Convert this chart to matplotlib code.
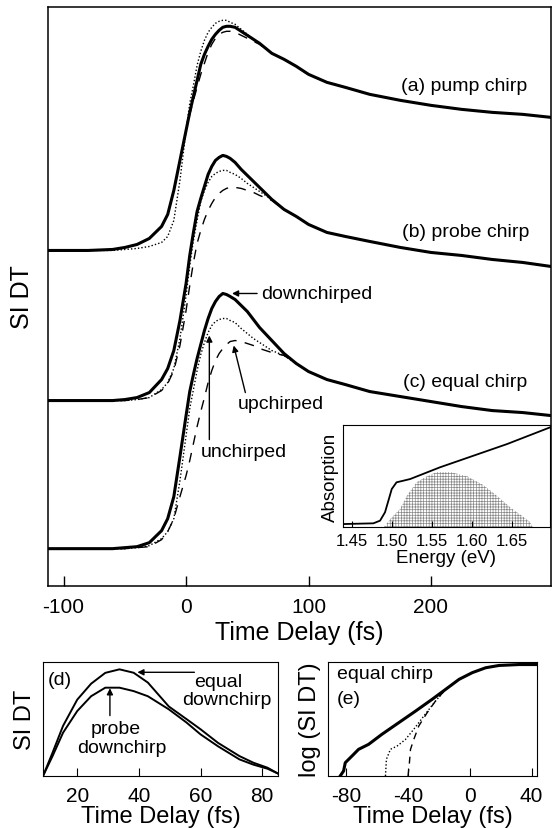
import matplotlib
matplotlib.use('Agg')
import matplotlib.pyplot as plt

plt.rcParams['font.family'] = ['Liberation Sans', 'DejaVu Sans']
plt.rcParams['hatch.linewidth'] = 0.5
plt.rcParams['axes.unicode_minus'] = False

# ---- main panel: time grid (fs) and signal above each baseline (arb.)
t_main = [-113, -80, -60, -50, -40, -30, -20, -15, -10, -5, 0, 3, 6, 9, 12, 15, 18, 21, 24, 27,
          30, 33, 36, 40, 45, 50, 55, 60, 70, 80, 90, 100, 115, 130, 150, 175, 200, 225, 250, 275, 298]

a_solid = [0, 0, 1, 3, 6, 12, 24, 36, 60, 90, 120, 138, 154, 170, 186, 196, 204, 211, 216, 220,
           223, 224, 224, 223, 219, 215, 211, 207, 197, 191, 184, 176, 168, 163, 156, 150, 145, 141, 138, 136, 133]
a_dot = [0, 0, 0, 1, 2, 4, 8, 14, 30, 70, 120, 147, 165, 185, 199, 210, 218, 223, 227, 229,
         230, 230, 228, 226, 221, 216, 211, 207, 197, 191, 184, 176, 168, 163, 156, 150, 145, 141, 138, 136, 133]
a_dash = [0, 0, 1, 3, 6, 12, 24, 36, 60, 90, 120, 136, 150, 163, 176, 187, 198, 206, 212, 216,
          218, 219, 219, 218, 215, 212, 209, 206, 197, 191, 184, 176, 168, 163, 156, 150, 145, 141, 138, 136, 133]

b_solid = [0, 0, 0, 1, 3, 8, 21, 32, 50, 80, 117, 145, 168, 189, 202, 214, 226, 234, 240, 243,
           245, 244, 242, 238, 231, 225, 219, 213, 201, 191, 184, 176, 168, 164, 159, 153, 148, 145, 141, 138, 134]
b_dot = [0, 0, 0, 0, 1, 3, 11, 18, 32, 62, 105, 135, 160, 180, 199, 210, 218, 224, 227, 229,
         230, 230, 228, 226, 222, 217, 213, 209, 201, 191, 184, 176, 168, 164, 159, 153, 148, 145, 141, 138, 134]
b_dash = [0, 0, 0, 0, 1, 3, 10, 17, 30, 55, 90, 115, 138, 157, 170, 181, 190, 197, 203, 207,
          210, 212, 213, 213, 212, 210, 208, 205, 200, 191, 184, 176, 168, 164, 159, 153, 148, 145, 141, 138, 134]

c_solid = [0, 0, 0, 1, 2, 6, 18, 30, 52, 92, 133, 157, 174, 190, 204, 218, 230, 240, 247, 252,
           255, 254, 252, 249, 243, 237, 229, 221, 208, 195, 185, 177, 169, 164, 157, 152, 147, 142, 138, 136, 133]
c_dot = [0, 0, 0, 0, 1, 3, 10, 17, 30, 68, 113, 140, 159, 178, 194, 206, 216, 223, 227, 229,
         230, 230, 228, 226, 220, 215, 210, 206, 198, 193, 185, 177, 169, 164, 157, 152, 147, 142, 138, 136, 133]
c_dash = [0, 0, 0, 0, 1, 2, 9, 17, 30, 52, 73, 88, 105, 122, 137, 151, 166, 178, 188, 195,
          200, 204, 207, 208, 207, 205, 203, 200, 196, 193, 185, 177, 169, 164, 157, 152, 147, 142, 138, 136, 133]

offsets = {'a': 335, 'b': 185, 'c': 37}

# ---- inset: absorption and laser spectrum
e_abs = [1.4395, 1.477, 1.4854, 1.4916, 1.4958, 1.500, 1.506, 1.5146, 1.523, 1.560, 1.602, 1.644, 1.697]
absorb = [0.032, 0.039, 0.065, 0.147, 0.26, 0.374, 0.44, 0.456, 0.472, 0.586, 0.70, 0.814, 0.975]
e_spec = [1.490, 1.498, 1.5104, 1.519, 1.531, 1.544, 1.556, 1.573, 1.594, 1.615, 1.631, 1.648, 1.665, 1.673, 1.676]
spec = [0, 0.08, 0.18, 0.31, 0.44, 0.50, 0.54, 0.54, 0.50, 0.41, 0.31, 0.195, 0.098, 0.05, 0]

# ---- panel (d)
t_d = [8.9, 12, 15.4, 20, 24.5, 29.1, 33.7, 38.3, 42.9, 49.7, 55.4, 60, 65.7, 72.6, 77.1, 81.7, 85]
d_equal = [0, 0.205, 0.44, 0.67, 0.81, 0.905, 0.936, 0.906, 0.82, 0.61, 0.50, 0.41, 0.29, 0.175, 0.117, 0.073, 0.023]
d_probe = [0, 0.175, 0.38, 0.57, 0.70, 0.775, 0.775, 0.745, 0.70, 0.585, 0.47, 0.365, 0.26, 0.146, 0.10, 0.064, 0.023]

# ---- panel (e)
t_e_solid = [-83.8, -81.6, -80.5, -76.2, -71.9, -65.4, -56.8, -45.9, -35, -24.3, -15.6, -6.9, 1.7, 10.4, 19, 32, 43.5]
e_solid = [0, 0.044, 0.117, 0.175, 0.234, 0.278, 0.366, 0.468, 0.57, 0.673, 0.76, 0.848, 0.907, 0.95, 0.97, 0.978, 0.978]
t_e_dot = [-54.5, -53.9, -51.3, -47, -41.6, -36.2, -29.7, -22.1, -15.6]
e_dot = [0, 0.146, 0.234, 0.263, 0.32, 0.41, 0.526, 0.658, 0.76]
t_e_dash = [-39.9, -39, -38.3, -36.2, -32.9, -27.5, -22.1, -15.6]
e_dash = [0, 0.117, 0.234, 0.32, 0.44, 0.556, 0.658, 0.76]

fig = plt.figure(figsize=(5.52, 8.29), dpi=100)

ax = fig.add_axes([0.0864, 0.2923, 0.9118, 0.6977])
for key, (s, d, ds) in zip('abc', [(a_solid, a_dot, a_dash), (b_solid, b_dot, b_dash), (c_solid, c_dot, c_dash)]):
    off = offsets[key]
    ax.plot(t_main, [v + off for v in d], color='black', lw=1.0, ls=(0, (1, 1.5)))
    ax.plot(t_main, [v + off for v in ds], color='black', lw=1.0, ls=(0, (7, 6)))
    ax.plot(t_main, [v + off for v in s], color='black', lw=2.2)
ax.set_xlim(-113, 298)
ax.set_ylim(0, 578)
ax.set_yticks([])
ax.set_xticks([-100, 0, 100, 200])
ax.tick_params(axis='x', direction='in', length=7, width=1, labelsize=15, pad=8)
ax.set_xlabel('Time Delay (fs)', fontsize=18, labelpad=3)
ax.set_ylabel('SI DT', fontsize=18, labelpad=10)
for sp in ax.spines.values():
    sp.set_linewidth(1.1)

txt = dict(fontsize=14, va='center')
ax.text(279, 500, '(a) pump chirp', ha='right', **txt)
ax.text(280, 354, '(b) probe chirp', ha='right', **txt)
ax.text(279, 204, '(c) equal chirp', ha='right', **txt)
ax.text(61, 292, 'downchirped', ha='left', **txt)
ax.text(42, 182, 'upchirped', ha='left', **txt)
ax.text(12, 134, 'unchirped', ha='left', **txt)
arr = dict(arrowstyle='-|>', color='black', lw=1.0, mutation_scale=9, shrinkA=0, shrinkB=0)
ax.annotate('', xy=(37.5, 292), xytext=(58, 292), arrowprops=arr)
ax.annotate('', xy=(38.9, 240), xytext=(48.4, 193), arrowprops=arr)
ax.annotate('', xy=(19, 250), xytext=(19, 146), arrowprops=arr)

ins = fig.add_axes([0.6219, 0.3627, 0.3736, 0.1234])
ins.fill_between(e_spec, 0, spec, facecolor='white', edgecolor='#888888', hatch='++++++', linewidth=0)
ins.plot(e_abs, absorb, color='black', lw=1.3)
ins.set_xlim(1.4395, 1.697)
ins.set_ylim(0, 1)
ins.set_yticks([])
ins.set_xticks([1.45, 1.50, 1.55, 1.60, 1.65])
ins.set_xticklabels(['1.45', '1.50', '1.55', '1.60', '1.65'])
ins.tick_params(axis='x', direction='in', length=4, labelsize=12, pad=4)
ins.set_xlabel('Energy (eV)', fontsize=13.5, labelpad=1)
ins.set_ylabel('Absorption', fontsize=13.5, labelpad=3)

axd = fig.add_axes([0.0779, 0.0627, 0.4257, 0.1375])
axd.plot(t_d, d_equal, color='black', lw=1.4)
axd.plot(t_d, d_probe, color='black', lw=1.4)
axd.set_xlim(8.9, 85.1)
axd.set_ylim(0, 1)
axd.set_yticks([])
axd.set_xticks([20, 40, 60, 80])
axd.tick_params(axis='x', direction='in', length=6, labelsize=15, pad=7)
axd.set_xlabel('Time Delay (fs)', fontsize=17, labelpad=0)
axd.set_ylabel('SI DT', fontsize=17, labelpad=5)
axd.text(0.02, 0.85, '(d)', transform=axd.transAxes, fontsize=14, va='center')
axd.text(65.6, 0.83, 'equal', ha='center', va='center', fontsize=14)
axd.text(68.5, 0.67, 'downchirp', ha='center', va='center', fontsize=14)
axd.text(32.6, 0.42, 'probe', ha='center', va='center', fontsize=14)
axd.text(34.3, 0.25, 'downchirp', ha='center', va='center', fontsize=14)
axd.annotate('', xy=(39.5, 0.91), xytext=(58, 0.91), arrowprops=arr)
axd.annotate('', xy=(30.6, 0.77), xytext=(30.6, 0.53), arrowprops=arr)

axe = fig.add_axes([0.5947, 0.0627, 0.378, 0.1375])
axe.plot(t_e_dot, e_dot, color='black', lw=1.0, ls=(0, (1, 1.5)))
axe.plot(t_e_dash, e_dash, color='black', lw=1.0, ls=(0, (5, 4)))
axe.plot(t_e_solid, e_solid, color='black', lw=2.2)
axe.set_xlim(-91.5, 43.5)
axe.set_ylim(0, 1)
axe.set_yticks([])
axe.set_xticks([-80, -40, 0, 40])
axe.tick_params(axis='x', direction='in', length=6, labelsize=15, pad=7)
axe.set_xlabel('Time Delay (fs)', fontsize=17, labelpad=0)
axe.set_ylabel('log (SI DT)', fontsize=17, labelpad=5)
axe.text(0.043, 0.9, 'equal chirp', transform=axe.transAxes, fontsize=14, va='center')
axe.text(0.043, 0.68, '(e)', transform=axe.transAxes, fontsize=14, va='center')

fig.savefig('out.png', dpi=100)
